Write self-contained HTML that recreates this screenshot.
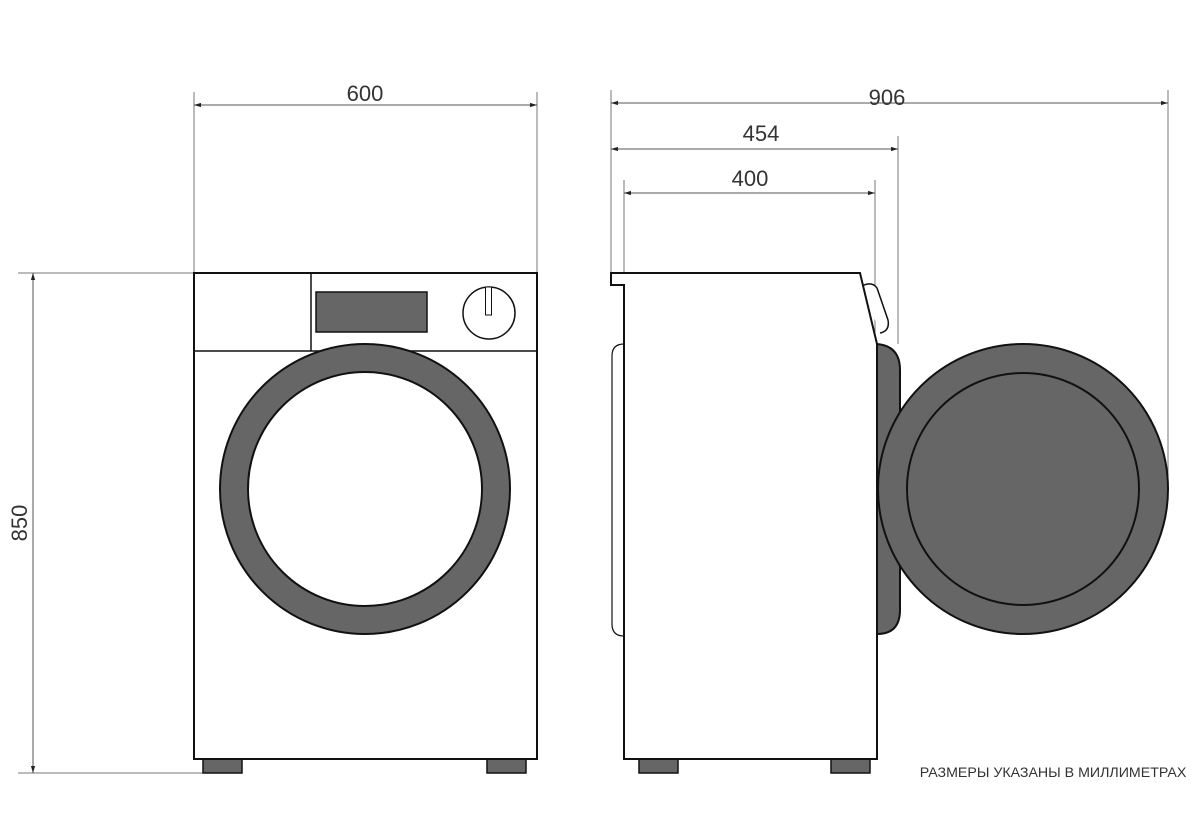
<!DOCTYPE html>
<html><head><meta charset="utf-8"><style>
html,body{margin:0;padding:0;background:#fff;}
svg{display:block;}
text{font-family:"Liberation Sans","DejaVu Sans",sans-serif;fill:#333;}
</style></head><body>
<svg width="1200" height="828" viewBox="0 0 1200 828" xmlns="http://www.w3.org/2000/svg">
<defs>
<marker id="a" viewBox="0 0 10 10" refX="10" refY="5" markerWidth="7" markerHeight="7" orient="auto-start-reverse"><path d="M0,2 L10,5 L0,8 z" fill="#222"/></marker>
</defs>
<g stroke="#777" stroke-width="1" fill="none">
<line x1="194" y1="92" x2="194" y2="273"/>
<line x1="537" y1="92" x2="537" y2="273"/>
<line x1="18" y1="273" x2="194" y2="273"/>
<line x1="18" y1="773" x2="203" y2="773"/>
<line x1="611" y1="90" x2="611" y2="273"/>
<line x1="624" y1="180" x2="624" y2="285"/>
<line x1="875" y1="180" x2="875" y2="344"/>
<line x1="898" y1="136" x2="898" y2="344"/>
<line x1="1168" y1="90" x2="1168" y2="489"/>
</g>
<g stroke="#555" stroke-width="1" fill="none">
<line x1="194" y1="105" x2="537" y2="105" marker-start="url(#a)" marker-end="url(#a)"/>
<line x1="33" y1="273" x2="33" y2="773" marker-start="url(#a)" marker-end="url(#a)"/>
<line x1="611" y1="103" x2="1168" y2="103" marker-start="url(#a)" marker-end="url(#a)"/>
<line x1="611" y1="149" x2="898" y2="149" marker-start="url(#a)" marker-end="url(#a)"/>
<line x1="624" y1="193" x2="875" y2="193" marker-start="url(#a)" marker-end="url(#a)"/>
</g>
<text x="365" y="101" font-size="22" text-anchor="middle">600</text>
<text x="887" y="105" font-size="22" text-anchor="middle">906</text>
<text x="761" y="141" font-size="22" text-anchor="middle">454</text>
<text x="750" y="186" font-size="22" text-anchor="middle">400</text>
<text x="27" y="523" font-size="22" text-anchor="middle" transform="rotate(-90 27 523)">850</text>
<text x="1053" y="777" font-size="14.2" text-anchor="middle">РАЗМЕРЫ УКАЗАНЫ В МИЛЛИМЕТРАХ</text>

<g stroke="#111" stroke-width="2">
<rect x="203" y="759" width="39" height="14" fill="#666" stroke-width="1.5"/>
<rect x="487" y="759" width="39" height="14" fill="#666" stroke-width="1.5"/>
<rect x="194" y="273" width="343" height="486" fill="#fff"/>
<line x1="194" y1="351" x2="537" y2="351" stroke-width="1.5"/>
<line x1="311" y1="273" x2="311" y2="351" stroke-width="1.5"/>
<rect x="316" y="292" width="111" height="40" fill="#666" stroke-width="1.5"/>
<circle cx="489" cy="313" r="26" fill="#fff" stroke-width="1.5"/>
<rect x="485.5" y="287" width="6" height="28" fill="#fff" stroke-width="1"/>
<circle cx="365" cy="489" r="145" fill="#666"/>
<circle cx="365" cy="489" r="117" fill="#fff"/>
</g>

<g stroke="#111" stroke-width="2">
<rect x="639" y="759" width="39" height="14" fill="#666" stroke-width="1.5"/>
<rect x="831" y="759" width="39" height="14" fill="#666" stroke-width="1.5"/>
<path d="M624,344 Q612,344 612,356 L612,624 Q612,636 624,636" fill="#fff" stroke-width="1.2"/>
<path d="M862,286 Q872,281 877,288 L888,320 Q890,331 880,333" fill="#fff" stroke-width="1.5"/>
<path d="M877,344 Q900,346 900,370 L900,610 Q900,634 877,634 Z" fill="#666"/>
<path d="M611,273 L860,273 L877,344 L877,759 L624,759 L624,285 L611,285 Z" fill="#fff"/>
<circle cx="1023" cy="489" r="145" fill="#666"/>
<circle cx="1023" cy="489" r="116" fill="#666"/>
</g>
</svg>
</body></html>
